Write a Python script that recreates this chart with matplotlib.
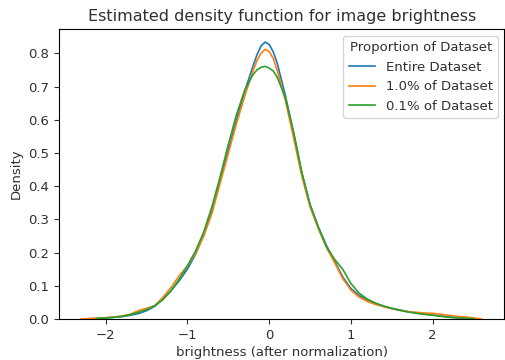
import numpy as np
import matplotlib
matplotlib.use('Agg')
import matplotlib.pyplot as plt

plt.rcParams['font.size'] = 9.5
plt.rcParams['text.color'] = '#303030'
plt.rcParams['axes.labelcolor'] = '#303030'
plt.rcParams['xtick.color'] = '#303030'
plt.rcParams['ytick.color'] = '#303030'

# brightness grid (after normalization)
x_vals = [-2.3, -2.2, -2.1, -2.0, -1.9, -1.8, -1.7, -1.6, -1.5, -1.4,
          -1.3, -1.2, -1.1, -1.0, -0.9, -0.8, -0.7, -0.6, -0.5, -0.4,
          -0.3, -0.2, -0.15, -0.1, -0.05, 0.0, 0.05, 0.1, 0.2, 0.3,
          0.4, 0.5, 0.6, 0.7, 0.8, 0.9, 1.0, 1.1, 1.2, 1.3,
          1.4, 1.5, 1.6, 1.7, 1.8, 1.9, 2.0, 2.1, 2.2, 2.3,
          2.4, 2.5, 2.6]

entire = [np.nan, 0.001, 0.002, 0.003, 0.005, 0.007, 0.011, 0.016, 0.025, 0.038,
          0.060, 0.085, 0.115, 0.150, 0.195, 0.252, 0.325, 0.415, 0.508, 0.598,
          0.685, 0.760, 0.795, 0.822, 0.834, 0.827, 0.805, 0.770, 0.672, 0.560,
          0.440, 0.345, 0.278, 0.222, 0.175, 0.127, 0.092, 0.071, 0.057, 0.047,
          0.038, 0.032, 0.027, 0.022, 0.018, 0.015, 0.012, 0.009, 0.006, 0.004,
          0.002, 0.001, np.nan]

pct1 = [0.0, 0.001, 0.002, 0.004, 0.006, 0.009, 0.014, 0.025, 0.032, 0.040,
        0.065, 0.095, 0.130, 0.160, 0.198, 0.250, 0.318, 0.408, 0.498, 0.588,
        0.670, 0.745, 0.778, 0.800, 0.812, 0.806, 0.785, 0.748, 0.657, 0.545,
        0.430, 0.338, 0.273, 0.216, 0.170, 0.122, 0.087, 0.066, 0.053, 0.044,
        0.037, 0.031, 0.026, 0.022, 0.020, 0.018, 0.017, 0.014, 0.011, 0.008,
        0.006, 0.003, 0.0]

pct01 = [np.nan, np.nan, 0.002, 0.003, 0.005, 0.008, 0.013, 0.020, 0.028, 0.040,
         0.058, 0.085, 0.120, 0.160, 0.205, 0.262, 0.338, 0.428, 0.525, 0.615,
         0.688, 0.735, 0.750, 0.758, 0.761, 0.756, 0.747, 0.728, 0.665, 0.562,
         0.442, 0.345, 0.278, 0.218, 0.180, 0.150, 0.107, 0.078, 0.060, 0.048,
         0.039, 0.032, 0.026, 0.021, 0.017, 0.014, 0.011, 0.008, 0.005, 0.003,
         0.002, 0.001, np.nan]

labels = ['Entire Dataset', '1.0% of Dataset', '0.1% of Dataset']

fig = plt.figure(figsize=(5.05, 3.6), dpi=100)
ax = fig.add_axes([0.117, 0.114, 0.882, 0.805])

for ys, lab in zip([entire, pct1, pct01], labels):
    ax.plot(x_vals, ys, label=lab, linewidth=1.2)

ax.set_xlim(-2.57, 2.88)
ax.set_ylim(0, 0.873)
ax.set_yticks(np.arange(0, 0.81, 0.1))
ax.set_title('Estimated density function for image brightness', fontsize=11.5)
ax.set_xlabel('brightness (after normalization)', labelpad=3)
ax.set_ylabel('Density')
ax.legend(title='Proportion of Dataset', loc='upper right',
          title_fontsize=9.5, fontsize=9.5)

fig.savefig('out.png', dpi=100)
